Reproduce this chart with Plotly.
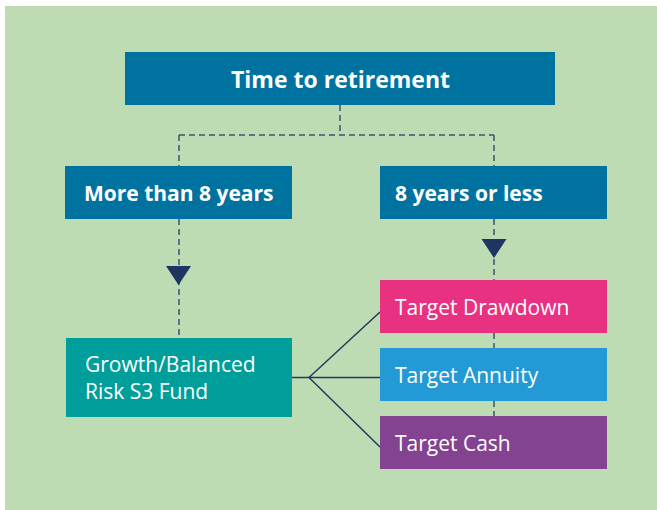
import plotly.graph_objects as go

# ---- data ----
node_labels = ["Time to retirement", "More than 8 years", "8 years or less",
               "Growth/Balanced<br>Risk S3 Fund", "Target Drawdown",
               "Target Annuity", "Target Cash"]
node_colors = ["#0072A0", "#0072A0", "#0072A0", "#009E9A",
               "#E93182", "#2399D6", "#834391"]
node_bold = [True, True, True, False, False, False, False]
node_font_size = [23, 21, 21, 21, 21, 21, 21]

# ---- geometry (pixel space, y down) ----
W, H = 657, 510
boxes = [  # x0, x1, y0, y1
    (125, 555, 52, 105),
    (65, 292, 166, 219),
    (380, 607, 166, 219),
    (66, 292, 338, 417),
    (380, 607, 280, 333),
    (380, 607, 348, 401),
    (380, 607, 416, 469),
]
text_anchor = ["center", "center", "left", "left", "left", "left", "left"]
text_pad = [0, 0, 13, 17, 13, 13, 13]

dashed = [
    ((340, 105), (340, 135)),
    ((179, 135), (494, 135)),
    ((179, 135), (179, 166)),
    ((494, 135), (494, 166)),
    ((179, 219), (179, 338)),
    ((494, 219), (494, 280)),
    ((494, 333), (494, 348)),
    ((494, 401), (494, 416)),
]
triangles = [(178.5, 266, 285), (494, 239, 258)]
junction = (309, 377.5)
solid_targets = [(292, 377.5), (380, 312), (380, 377.5), (380, 447)]

LINE = "#24375E"
DASH = "#3E5372"
FONT = "Open Sans"

fig = go.Figure()
shapes = []
# background
shapes.append(dict(type="rect", x0=5, x1=W + 2, y0=6, y1=H + 2,
                   fillcolor="#BEDCB4", line=dict(width=0), layer="below"))
for (a, b) in dashed:
    shapes.append(dict(type="line", x0=a[0], y0=a[1], x1=b[0], y1=b[1],
                       line=dict(color=DASH, width=1.5, dash="6px,4px")))
for (cx, ytop, yap) in triangles:
    hw = 12.5
    shapes.append(dict(type="path",
                       path=f"M {cx-hw},{ytop} L {cx+hw},{ytop} L {cx},{yap} Z",
                       fillcolor="#1E3461", line=dict(width=0)))
for (tx, ty) in solid_targets:
    shapes.append(dict(type="line", x0=junction[0], y0=junction[1], x1=tx, y1=ty,
                       line=dict(color=LINE, width=1.5)))
for (x0, x1, y0, y1), c in zip(boxes, node_colors):
    shapes.append(dict(type="rect", x0=x0, x1=x1, y0=y0, y1=y1,
                       fillcolor=c, line=dict(width=0)))

annotations = []
for lab, (x0, x1, y0, y1), anc, pad, bold, fs in zip(node_labels, boxes, text_anchor,
                                                     text_pad, node_bold, node_font_size):
    x = (x0 + x1) / 2 if anc == "center" else x0 + pad
    txt = f"<b>{lab}</b>" if bold else lab
    annotations.append(dict(x=x, y=(y0 + y1) / 2, text=txt, showarrow=False,
                            xanchor=anc, yanchor="middle", align="left",
                            font=dict(family=FONT, size=fs, color="white")))

fig.update_layout(
    width=W, height=H, margin=dict(l=0, r=0, t=0, b=0),
    paper_bgcolor="white", plot_bgcolor="white",
    xaxis=dict(range=[0, W], visible=False, fixedrange=True),
    yaxis=dict(range=[H, 0], visible=False, fixedrange=True),
    shapes=shapes, annotations=annotations, showlegend=False,
)
fig.write_html("out.html", config={"displayModeBar": False},
               post_script="document.body.style.margin='0';")
